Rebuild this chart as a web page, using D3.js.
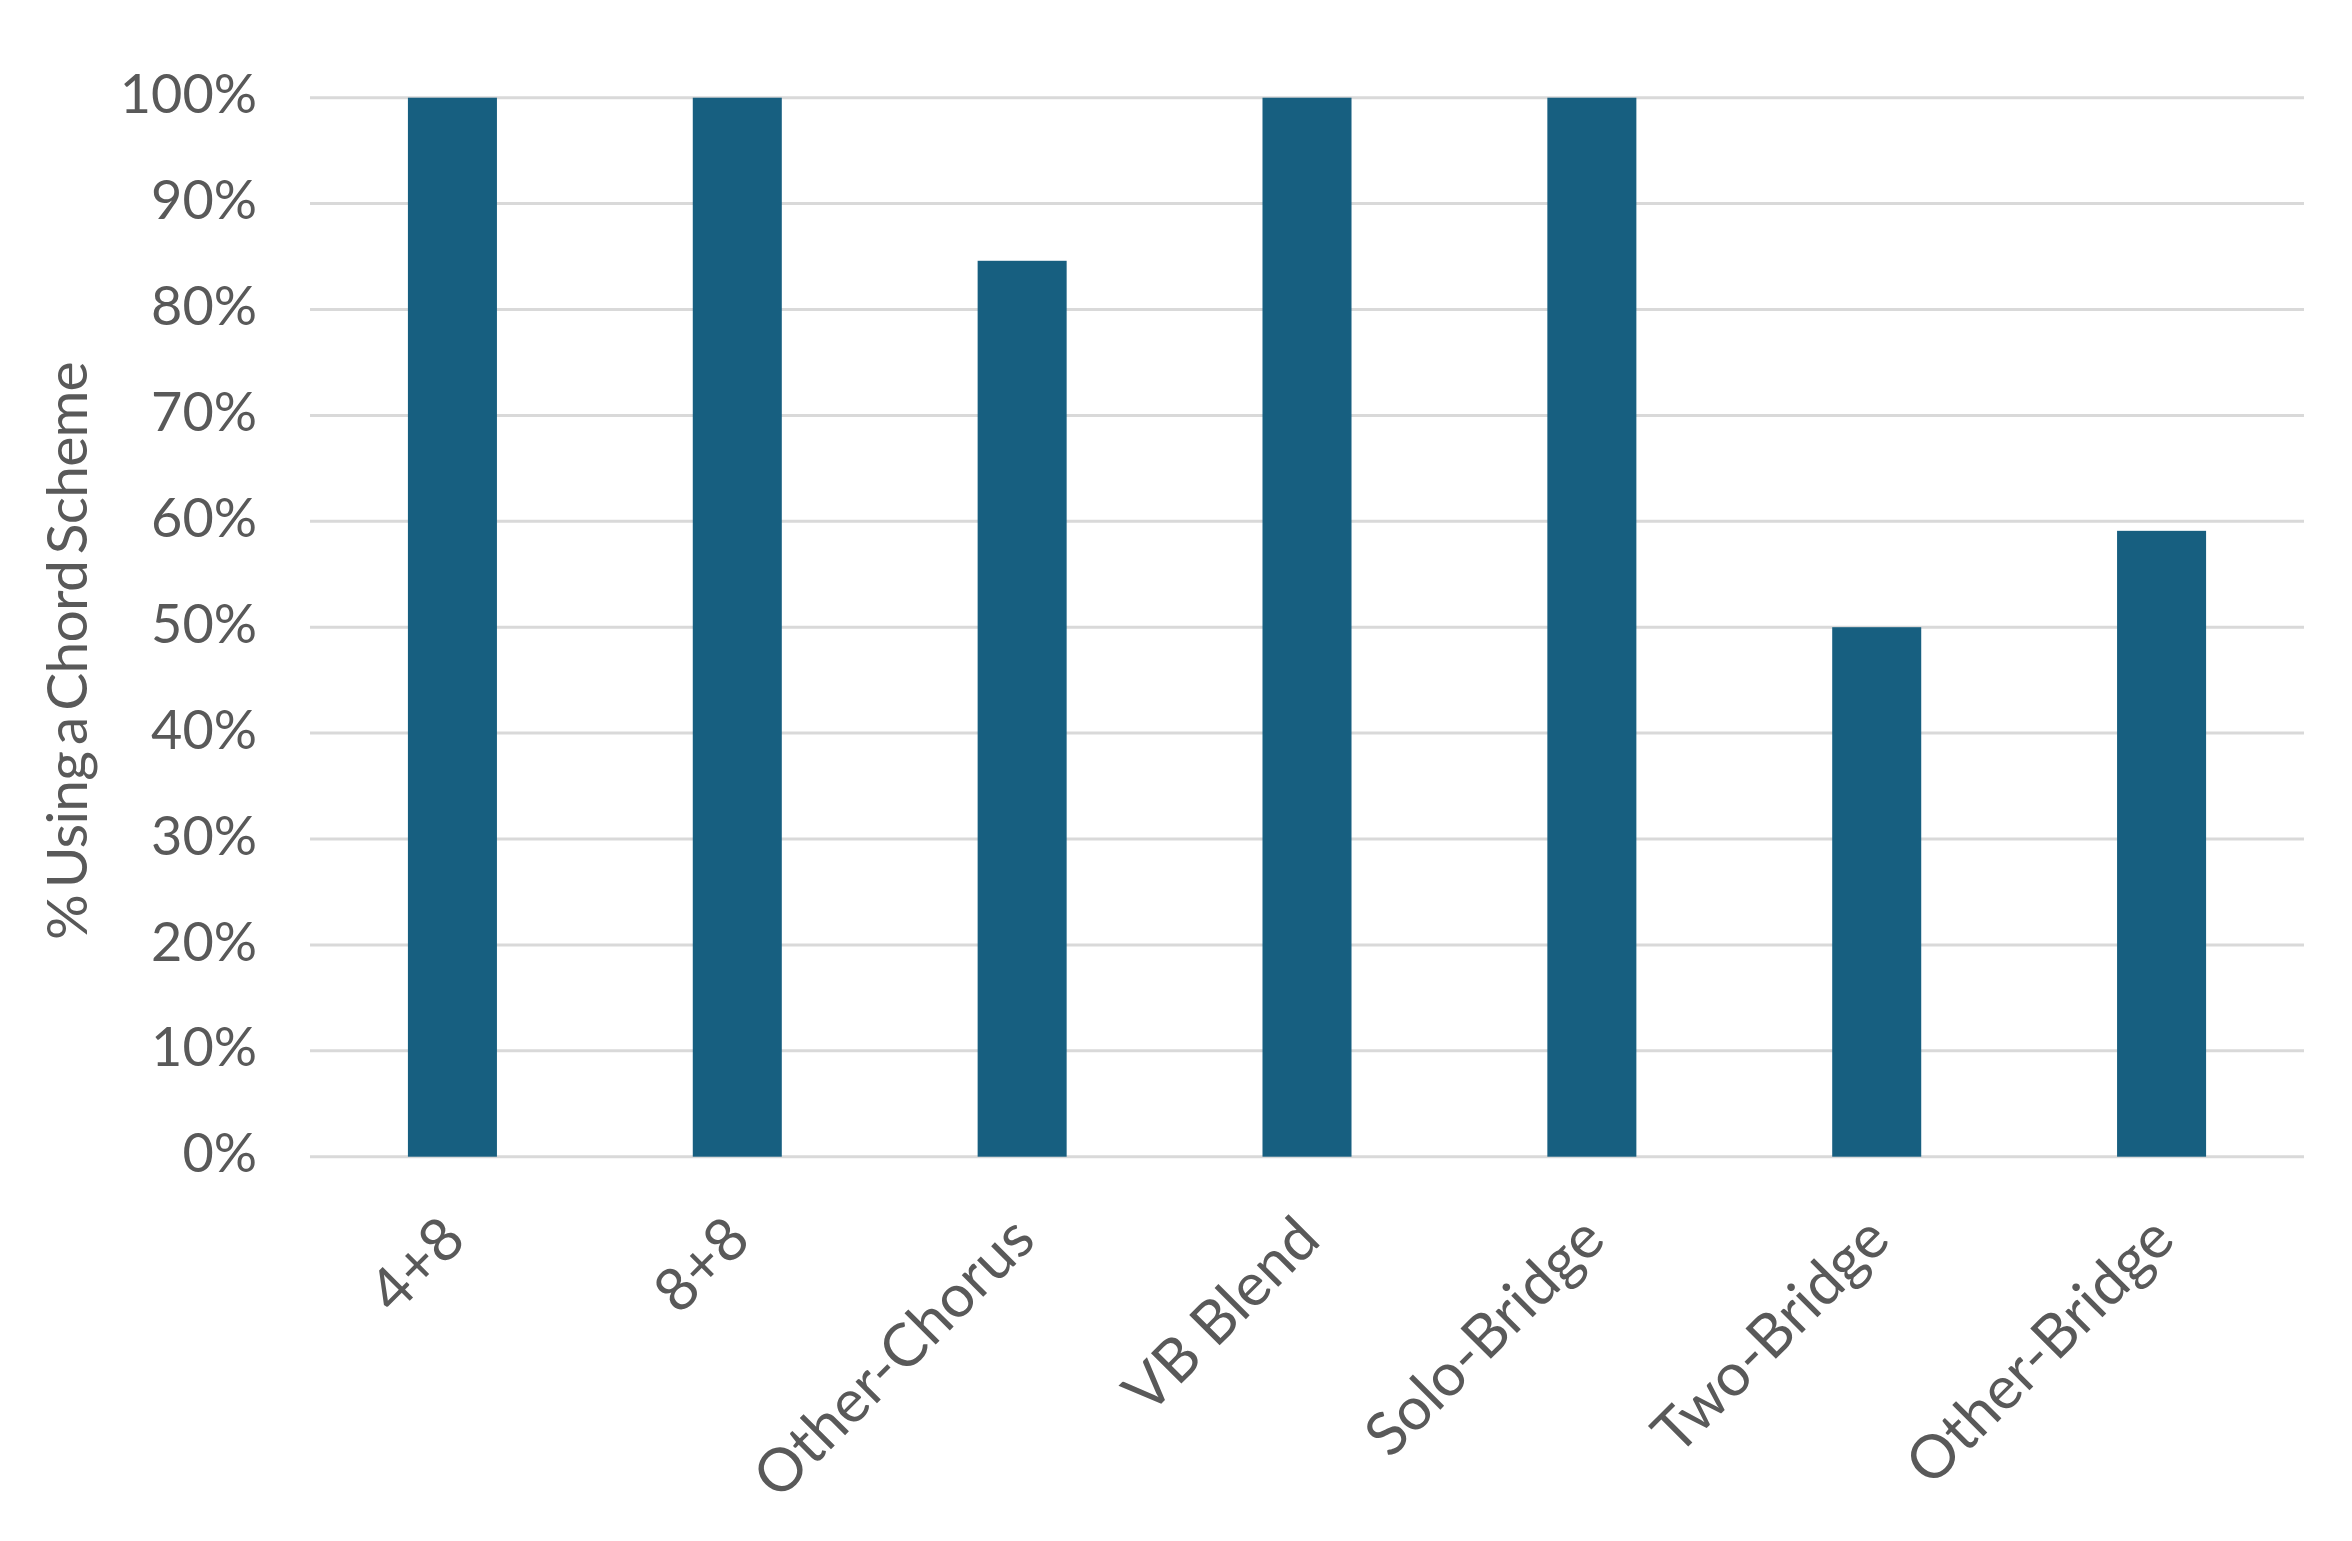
<!DOCTYPE html>
<html>
<head>
<meta charset="utf-8">
<script src="https://cdn.jsdelivr.net/npm/d3@7"></script>
<style>
  html, body { margin: 0; padding: 0; background: #fff; }
  svg text { font-family: Lato, "Open Sans", sans-serif; fill: #595959; }
</style>
</head>
<body>
<svg id="chart" width="2352" height="1541"></svg>
<script>
const categories = ["4+8", "8+8", "Other-Chorus", "VB Blend", "Solo-Bridge", "Two-Bridge", "Other-Bridge"];
const values = [1.00, 1.00, 0.846, 1.00, 1.00, 0.50, 0.591];
const yTicks = [0, 0.1, 0.2, 0.3, 0.4, 0.5, 0.6, 0.7, 0.8, 0.9, 1.0];
const yTitle = "% Using a Chord Scheme";

(function () {
const svg = d3.select("#chart");
const mLeft = 310, mRight = 2304, mTop = 97.7, mBottom = 1156.7;

const x = d3.scaleBand().domain(categories).range([mLeft, mRight])
  .paddingInner(0.6875).paddingOuter(0.34375);
const y = d3.scaleLinear().domain([0, 1]).range([mBottom, mTop]);

// gridlines
svg.append("g").selectAll("line").data(yTicks).join("line")
  .attr("x1", mLeft).attr("x2", mRight)
  .attr("y1", d => y(d)).attr("y2", d => y(d))
  .attr("stroke", "#d9d9d9").attr("stroke-width", 3);

// y axis labels
const yAxis = d3.axisLeft(y).tickValues(yTicks).tickFormat(d3.format(".0%")).tickSize(0).tickPadding(53);
const gy = svg.append("g").attr("transform", `translate(${mLeft},0)`).call(yAxis);
gy.select(".domain").remove();
gy.selectAll("text").attr("font-size", 54).attr("fill", "#595959")
  .style("font-family", "Lato, sans-serif").attr("dy", "0.28em");

// bars
svg.append("g").selectAll("rect").data(values).join("rect")
  .attr("x", (d, i) => x(categories[i]))
  .attr("width", x.bandwidth())
  .attr("y", d => y(d))
  .attr("height", d => y(0) - y(d))
  .attr("fill", "#175f80");

// x axis labels
const xAxis = d3.axisBottom(x).tickSize(0).tickPadding(0);
const gx = svg.append("g").attr("transform", `translate(0,${mBottom})`).call(xAxis);
gx.select(".domain").remove();
gx.selectAll("text")
  .attr("font-size", 60).attr("fill", "#595959")
  .style("font-family", "Lato, sans-serif")
  .attr("text-anchor", "end")
  .attr("transform", "translate(-14,56) rotate(-45)")
  .attr("x", 0).attr("y", 0).attr("dy", "0.7em");

// y title
svg.append("text")
  .attr("transform", `translate(87,651) rotate(-90)`)
  .attr("text-anchor", "middle")
  .attr("font-size", 57)
  .style("letter-spacing", "-0.8px")
  .style("word-spacing", "-7px")
  .text(yTitle);
})();
</script>
</body>
</html>
